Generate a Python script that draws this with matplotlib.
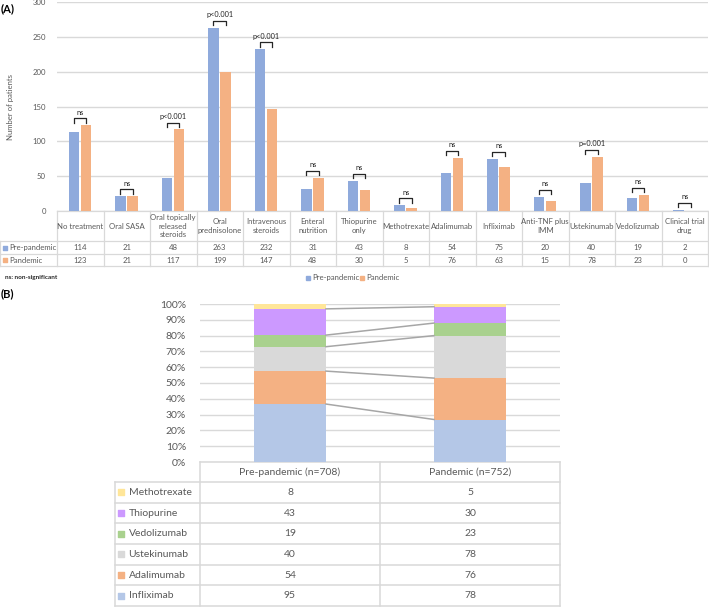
import numpy as np
import matplotlib.pyplot as plt

plt.rcParams['font.family'] = ['Lato', 'DejaVu Sans']

# ---- panel A data
treatments = ['No treatment', 'Oral SASA', 'Oral topically\nreleased\nsteroids',
              'Oral\nprednisolone', 'Intravenous\nsteroids', 'Enteral\nnutrition',
              'Thiopurine\nonly', 'Methotrexate', 'Adalimumab', 'Infliximab',
              'Anti-TNF plus\nIMM', 'Ustekinumab', 'Vedolizumab', 'Clinical trial\ndrug']
pre_counts = [114, 21, 48, 263, 232, 31, 43, 8, 54, 75, 20, 40, 19, 2]
pan_counts = [123, 21, 117, 199, 147, 48, 30, 5, 76, 63, 15, 78, 23, 0]
signif = ['ns', 'ns', 'p<0.001', 'p<0.001', 'p<0.001', 'ns', 'ns', 'ns',
          'ns', 'ns', 'ns', 'p=0.001', 'ns', 'ns']

# ---- panel B data
groups = ['Pre-pandemic (n=708)', 'Pandemic (n=752)']
drugs = ['Infliximab', 'Adalimumab', 'Ustekinumab', 'Vedolizumab', 'Thiopurine', 'Methotrexate']
pre_b = [95, 54, 40, 19, 43, 8]
pan_b = [78, 76, 78, 23, 30, 5]

blue = '#8FAADC'
orange = '#F4B183'
drug_colors = ['#B4C7E7', '#F4B183', '#D9D9D9', '#A9D18E', '#CC99FF', '#FFE699']
grid_c = '#D9D9D9'
txt_c = '#595959'
fsA = 5.6

W, H = 709, 607
fig = plt.figure(figsize=(W / 100, H / 100), dpi=100)

def box(l, t, r, b):
    return [l / W, 1 - b / H, (r - l) / W, (b - t) / H]

# ================= Panel A =================
ax = fig.add_axes(box(57, 2, 708, 211))
x = np.arange(len(treatments))
bw = 0.22
ax.bar(x - 0.135, pre_counts, bw, color=blue, zorder=3)
ax.bar(x + 0.125, pan_counts, bw, color=orange, zorder=3)
ax.set_xlim(-0.5, len(treatments) - 0.5)
ax.set_ylim(0, 300)
ax.set_yticks(np.arange(0, 301, 50))
ax.yaxis.grid(True, color=grid_c, lw=1, zorder=0)
ax.set_xticks([])
for s in ax.spines.values():
    s.set_visible(False)
ax.tick_params(axis='y', length=0, labelsize=fsA, labelcolor=txt_c, pad=8)
ax.set_ylabel('Number of patients', fontsize=fsA, color=txt_c, labelpad=13)

# significance brackets
for i in range(len(treatments)):
    m = max(pre_counts[i], pan_counts[i])
    x0, x1 = i - 0.135, i + 0.125
    yb, yt = m + 4, m + 10
    ax.plot([x0, x0, x1, x1], [yb, yt, yt, yb], color='#262626', lw=0.9, zorder=4)
    ax.text(i, yt + 4, signif[i], ha='center', va='bottom', fontsize=5.3, color='#262626')

# table under panel A
tr = ax.get_xaxis_transform()
h_ax = 209.0
def ya(p):
    return -(p - 211) / h_ax
xl = -0.5 - 57 / 46.5
lc = dict(color=grid_c, lw=0.9, transform=tr, clip_on=False)
for yy in [211, 241, 254, 266]:
    x_start = -0.5 if yy == 211 else xl
    ax.plot([x_start, len(treatments) - 0.5], [ya(yy), ya(yy)], **lc)
for k in range(len(treatments) + 1):
    ax.plot([k - 0.5, k - 0.5], [ya(211), ya(266)], **lc)
ax.plot([xl, xl], [ya(241), ya(266)], **lc)
for i, name in enumerate(treatments):
    ax.text(i, ya(226), name, ha='center', va='center', fontsize=fsA,
            color=txt_c, transform=tr, linespacing=1.3)
    ax.text(i, ya(247.5), str(pre_counts[i]), ha='center', va='center',
            fontsize=fsA, color=txt_c, transform=tr)
    ax.text(i, ya(260), str(pan_counts[i]), ha='center', va='center',
            fontsize=fsA, color=txt_c, transform=tr)
for lab, col, yy in [('Pre-pandemic', blue, 247.5), ('Pandemic', orange, 260)]:
    ax.scatter([xl + 0.1], [ya(yy)], marker='s', s=6, color=col, transform=tr, clip_on=False)
    ax.text(xl + 0.2, ya(yy), lab, ha='left', va='center', fontsize=fsA,
            color=txt_c, transform=tr)

fig.text(5 / W, 1 - 277 / H, 'ns: non-significant', fontsize=4.6, color='#262626',
         ha='left', va='center', fontweight='bold')
# legend
fig.patches.append(plt.Rectangle((306 / W, 1 - 279.5 / H), 4 / W, 4 / H,
                                 color=blue, transform=fig.transFigure))
fig.text(312 / W, 1 - 277.5 / H, 'Pre-pandemic', fontsize=fsA, color=txt_c, va='center')
fig.patches.append(plt.Rectangle((360 / W, 1 - 279.5 / H), 4 / W, 4 / H,
                                 color=orange, transform=fig.transFigure))
fig.text(366 / W, 1 - 277.5 / H, 'Pandemic', fontsize=fsA, color=txt_c, va='center')

fig.text(1 / W, 1 - 9 / H, '(A)', fontsize=8, fontweight='bold', va='center')
fig.text(1 / W, 1 - 294 / H, '(B)', fontsize=8, fontweight='bold', va='center')

# ================= Panel B =================
ax2 = fig.add_axes(box(200, 304, 560, 462))
pre_pct = np.array(pre_b) / sum(pre_b) * 100
pan_pct = np.array(pan_b) / sum(pan_b) * 100
bw2 = 0.4
bottoms = np.zeros(2)
for j, d in enumerate(drugs):
    vals = np.array([pre_pct[j], pan_pct[j]])
    ax2.bar([0, 1], vals, bw2, bottom=bottoms, color=drug_colors[j], zorder=3)
    bottoms += vals
cum_pre = np.cumsum(pre_pct)
cum_pan = np.cumsum(pan_pct)
for j in range(len(drugs) - 1):
    ax2.plot([bw2 / 2, 1 - bw2 / 2], [cum_pre[j], cum_pan[j]], color='#A6A6A6',
             lw=1.1, zorder=4)
ax2.set_xlim(-0.5, 1.5)
ax2.set_ylim(0, 100)
ax2.set_yticks(np.arange(0, 101, 10))
ax2.set_yticklabels([f'{v}%' for v in range(0, 101, 10)])
ax2.yaxis.grid(True, color=grid_c, lw=1, zorder=0)
ax2.set_xticks([])
for s in ax2.spines.values():
    s.set_visible(False)
ax2.tick_params(axis='y', length=0, labelsize=7.5, labelcolor=txt_c, pad=10)

tr2 = ax2.get_xaxis_transform()
h2 = 158.0
def yb_(p):
    return -(p - 462) / h2
xl2 = -0.5 + (115 - 200) / 180
row_h = (606 - 482) / 6
lc2 = dict(color=grid_c, lw=1.1, transform=tr2, clip_on=False)
ax2.plot([-0.5, 1.5], [yb_(462), yb_(462)], **lc2)
for r in range(7):
    yy = 482 + r * row_h
    ax2.plot([xl2, 1.5], [yb_(yy), yb_(yy)], **lc2)
for xx in [-0.5, 0.5, 1.5]:
    ax2.plot([xx, xx], [yb_(462), yb_(606)], **lc2)
ax2.plot([xl2, xl2], [yb_(482), yb_(606)], **lc2)
for g, name in enumerate(groups):
    ax2.text(g, yb_(472), name, ha='center', va='center', fontsize=7.5,
             color=txt_c, transform=tr2)
for r, j in enumerate(range(len(drugs) - 1, -1, -1)):
    yc = yb_(482 + (r + 0.5) * row_h)
    ax2.scatter([xl2 + 0.035], [yc], marker='s', s=22, color=drug_colors[j],
                transform=tr2, clip_on=False)
    ax2.text(xl2 + 0.075, yc, drugs[j], ha='left', va='center', fontsize=7.5,
             color=txt_c, transform=tr2)
    ax2.text(0, yc, str(pre_b[j]), ha='center', va='center', fontsize=7.5,
             color=txt_c, transform=tr2)
    ax2.text(1, yc, str(pan_b[j]), ha='center', va='center', fontsize=7.5,
             color=txt_c, transform=tr2)

plt.savefig('out.png', dpi=100)
